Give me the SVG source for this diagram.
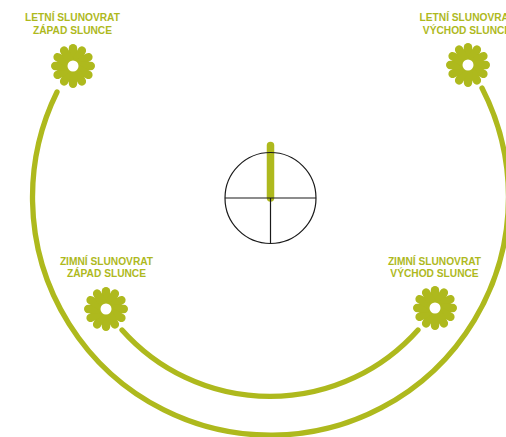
<svg xmlns="http://www.w3.org/2000/svg" xmlns:xlink="http://www.w3.org/1999/xlink" width="506" height="437" viewBox="0 0 506 437">
<style>
.t{font-family:"Liberation Sans",Arial,sans-serif;font-weight:700;font-size:10.2px;fill:#aeb91d;text-anchor:middle}
.arc{fill:none;stroke:#aeb91d;stroke-width:5.300;stroke-linecap:round}
.p{stroke:#aeb91d;stroke-width:8.400;stroke-linecap:round}
.k{fill:none;stroke:#1a1a1a;stroke-width:1.200}
</style>
<defs>
<g id="sun">
<circle r="15" fill="#aeb91d"/>
<g class="p">
<line x1="0" y1="-8" x2="0" y2="-17.800"/>
<line x1="0" y1="-8" x2="0" y2="-17.800" transform="rotate(30)"/>
<line x1="0" y1="-8" x2="0" y2="-17.800" transform="rotate(60)"/>
<line x1="0" y1="-8" x2="0" y2="-17.800" transform="rotate(90)"/>
<line x1="0" y1="-8" x2="0" y2="-17.800" transform="rotate(120)"/>
<line x1="0" y1="-8" x2="0" y2="-17.800" transform="rotate(150)"/>
<line x1="0" y1="-8" x2="0" y2="-17.800" transform="rotate(180)"/>
<line x1="0" y1="-8" x2="0" y2="-17.800" transform="rotate(210)"/>
<line x1="0" y1="-8" x2="0" y2="-17.800" transform="rotate(240)"/>
<line x1="0" y1="-8" x2="0" y2="-17.800" transform="rotate(270)"/>
<line x1="0" y1="-8" x2="0" y2="-17.800" transform="rotate(300)"/>
<line x1="0" y1="-8" x2="0" y2="-17.800" transform="rotate(330)"/>
</g>
<circle r="5.500" fill="#fff"/>
</g>
</defs>
<g id="connectors">
<path class="arc" d="M57 92A238 238 0 1 0 482 88"/>
<path class="arc" d="M122 330A198 198 0 0 0 418 330"/>
</g>
<g id="dial">
<line x1="270.500" y1="145.500" x2="270.500" y2="198" stroke="#aeb91d" stroke-width="7.500" stroke-linecap="round"/>
<circle class="k" cx="270.500" cy="198" r="45.500"/>
<line class="k" x1="225" y1="198" x2="316" y2="198"/>
<line class="k" x1="270.500" y1="198" x2="270.500" y2="243.500"/>
</g>
<g id="node-letni-zapad">
<use href="#sun" x="73" y="66"/>
<text class="t" x="72.500" y="21">LETNÍ SLUNOVRAT</text>
<text class="t" x="72.500" y="33.500">ZÁPAD SLUNCE</text>
</g>
<g id="node-letni-vychod">
<use href="#sun" x="468" y="65"/>
<text class="t" x="467" y="21">LETNÍ SLUNOVRAT</text>
<text class="t" x="467" y="33.500">VÝCHOD SLUNCE</text>
</g>
<g id="node-zimni-zapad">
<use href="#sun" x="106" y="309"/>
<text class="t" x="106.500" y="265">ZIMNÍ SLUNOVRAT</text>
<text class="t" x="106.500" y="277">ZÁPAD SLUNCE</text>
</g>
<g id="node-zimni-vychod">
<use href="#sun" x="435" y="308"/>
<text class="t" x="434.500" y="265">ZIMNÍ SLUNOVRAT</text>
<text class="t" x="434.500" y="277">VÝCHOD SLUNCE</text>
</g>
</svg>
